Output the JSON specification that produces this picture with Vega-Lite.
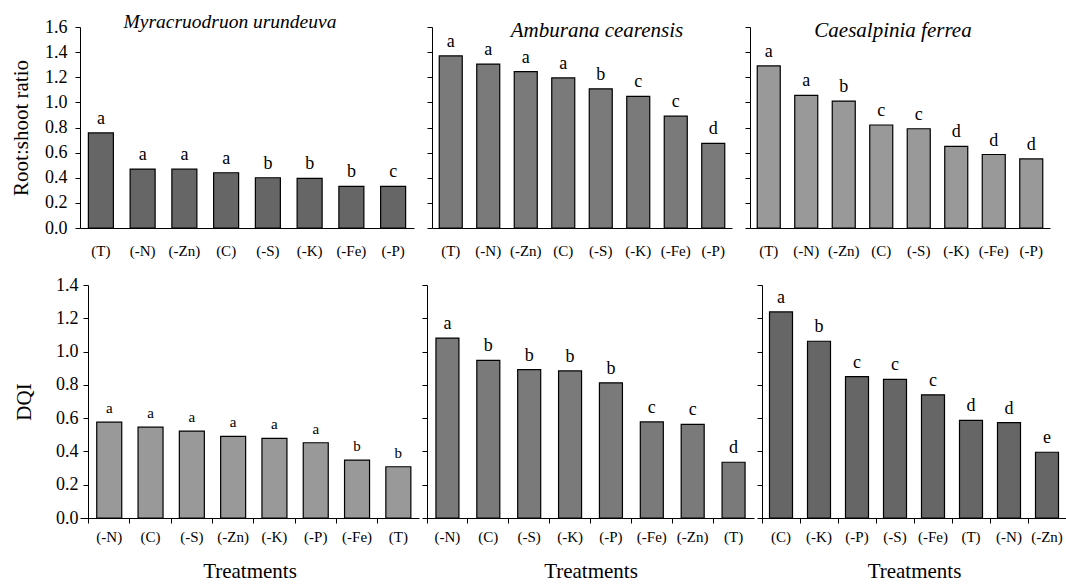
{
  "$schema": "https://vega.github.io/schema/vega-lite/v6.json",
  "padding": {"left": 10, "top": 11, "right": 0, "bottom": 0},
  "config": {
    "font": "Liberation Serif",
    "view": {"stroke": null},
    "axis": {
      "grid": false,
      "domainColor": "#000000",
      "tickColor": "#000000",
      "labelColor": "#000000",
      "titleColor": "#000000",
      "labelFont": "Liberation Serif",
      "titleFont": "Liberation Serif",
      "titleFontWeight": "normal"
    },
    "title": {"font": "Liberation Serif", "fontStyle": "italic", "fontWeight": "normal", "fontSize": 21, "color": "#000000", "baseline": "alphabetic", "offset": -14, "anchor": "middle"},
    "text": {"font": "Liberation Serif", "fontSize": 18, "baseline": "alphabetic", "dy": -9, "color": "#000000"}
  },
  "datasets": {
    "rs": [
      {"sp": "M", "t": "(T)", "v": 0.757, "l": "a"},
      {"sp": "M", "t": "(-N)", "v": 0.469, "l": "a"},
      {"sp": "M", "t": "(-Zn)", "v": 0.468, "l": "a"},
      {"sp": "M", "t": "(C)", "v": 0.44, "l": "a"},
      {"sp": "M", "t": "(-S)", "v": 0.40, "l": "b"},
      {"sp": "M", "t": "(-K)", "v": 0.395, "l": "b"},
      {"sp": "M", "t": "(-Fe)", "v": 0.332, "l": "b"},
      {"sp": "M", "t": "(-P)", "v": 0.332, "l": "c"},
      {"sp": "A", "t": "(T)", "v": 1.37, "l": "a"},
      {"sp": "A", "t": "(-N)", "v": 1.305, "l": "a"},
      {"sp": "A", "t": "(-Zn)", "v": 1.245, "l": "a"},
      {"sp": "A", "t": "(C)", "v": 1.195, "l": "a"},
      {"sp": "A", "t": "(-S)", "v": 1.108, "l": "b"},
      {"sp": "A", "t": "(-K)", "v": 1.047, "l": "c"},
      {"sp": "A", "t": "(-Fe)", "v": 0.89, "l": "c"},
      {"sp": "A", "t": "(-P)", "v": 0.674, "l": "d"},
      {"sp": "C", "t": "(T)", "v": 1.29, "l": "a"},
      {"sp": "C", "t": "(-N)", "v": 1.056, "l": "a"},
      {"sp": "C", "t": "(-Zn)", "v": 1.01, "l": "b"},
      {"sp": "C", "t": "(C)", "v": 0.82, "l": "c"},
      {"sp": "C", "t": "(-S)", "v": 0.79, "l": "c"},
      {"sp": "C", "t": "(-K)", "v": 0.65, "l": "d"},
      {"sp": "C", "t": "(-Fe)", "v": 0.585, "l": "d"},
      {"sp": "C", "t": "(-P)", "v": 0.55, "l": "d"}
    ],
    "dqi": [
      {"sp": "M", "t": "(-N)", "v": 0.576, "l": "a"},
      {"sp": "M", "t": "(C)", "v": 0.546, "l": "a"},
      {"sp": "M", "t": "(-S)", "v": 0.522, "l": "a"},
      {"sp": "M", "t": "(-Zn)", "v": 0.49, "l": "a"},
      {"sp": "M", "t": "(-K)", "v": 0.478, "l": "a"},
      {"sp": "M", "t": "(-P)", "v": 0.452, "l": "a"},
      {"sp": "M", "t": "(-Fe)", "v": 0.348, "l": "b"},
      {"sp": "M", "t": "(T)", "v": 0.308, "l": "b"},
      {"sp": "A", "t": "(-N)", "v": 1.081, "l": "a"},
      {"sp": "A", "t": "(C)", "v": 0.947, "l": "b"},
      {"sp": "A", "t": "(-S)", "v": 0.892, "l": "b"},
      {"sp": "A", "t": "(-K)", "v": 0.884, "l": "b"},
      {"sp": "A", "t": "(-P)", "v": 0.812, "l": "b"},
      {"sp": "A", "t": "(-Fe)", "v": 0.577, "l": "c"},
      {"sp": "A", "t": "(-Zn)", "v": 0.563, "l": "c"},
      {"sp": "A", "t": "(T)", "v": 0.335, "l": "d"},
      {"sp": "C", "t": "(C)", "v": 1.238, "l": "a"},
      {"sp": "C", "t": "(-K)", "v": 1.062, "l": "b"},
      {"sp": "C", "t": "(-P)", "v": 0.85, "l": "c"},
      {"sp": "C", "t": "(-S)", "v": 0.833, "l": "c"},
      {"sp": "C", "t": "(-Fe)", "v": 0.74, "l": "c"},
      {"sp": "C", "t": "(T)", "v": 0.587, "l": "d"},
      {"sp": "C", "t": "(-N)", "v": 0.573, "l": "d"},
      {"sp": "C", "t": "(-Zn)", "v": 0.395, "l": "e"}
    ]
  },
  "columns": 1,
  "align": "none",
  "spacing": 18,
  "concat": [
    {
      "spacing": 12,
      "hconcat": [
        {
          "width": 334, "height": 201,
          "data": {"name": "rs"},
          "transform": [{"filter": "datum.sp === 'M'"}],
          "title": {"text": "Myracruodruon urundeuva", "dx": -17, "fontSize": 19.5},
          "encoding": {
            "x": {"field": "t", "type": "nominal", "sort": ["(T)","(-N)","(-Zn)","(C)","(-S)","(-K)","(-Fe)","(-P)"],
                  "axis": {"title": null, "labelAngle": 0, "ticks": false, "tickSize": 0, "labelPadding": 15, "labelFontSize": 15, "labelBaseline": "top"}},
            "y": {"field": "v", "type": "quantitative", "scale": {"domain": [0, 1.6], "nice": false},
                  "axis": {"title": "Root:shoot ratio", "titleFontSize": 21, "titlePadding": 13, "values": [0,0.2,0.4,0.6,0.8,1.0,1.2,1.4,1.6], "format": ".1f", "labelFontSize": 18, "labelPadding": 8, "tickSize": 5}}
          },
          "layer": [
            {"mark": {"type": "bar", "size": 25, "fill": "#666666", "stroke": "#000000", "strokeWidth": 1.2}},
            {"mark": {"type": "text"}, "encoding": {"text": {"field": "l"}}}
          ]
        },
        {
          "width": 300, "height": 201,
          "data": {"name": "rs"},
          "transform": [{"filter": "datum.sp === 'A'"}],
          "title": {"text": "Amburana cearensis", "dx": 15},
          "encoding": {
            "x": {"field": "t", "type": "nominal", "sort": ["(T)","(-N)","(-Zn)","(C)","(-S)","(-K)","(-Fe)","(-P)"],
                  "axis": {"title": null, "labelAngle": 0, "ticks": false, "tickSize": 0, "labelPadding": 15, "labelFontSize": 15, "labelBaseline": "top"}},
            "y": {"field": "v", "type": "quantitative", "scale": {"domain": [0, 1.6], "nice": false},
                  "axis": {"title": null, "labels": false, "values": [0,0.2,0.4,0.6,0.8,1.0,1.2,1.4,1.6], "tickSize": 5}}
          },
          "layer": [
            {"mark": {"type": "bar", "size": 23, "fill": "#7a7a7a", "stroke": "#000000", "strokeWidth": 1.2}},
            {"mark": {"type": "text"}, "encoding": {"text": {"field": "l"}}}
          ]
        },
        {
          "width": 300, "height": 201,
          "data": {"name": "rs"},
          "transform": [{"filter": "datum.sp === 'C'"}],
          "title": {"text": "Caesalpinia ferrea", "dx": -7},
          "encoding": {
            "x": {"field": "t", "type": "nominal", "sort": ["(T)","(-N)","(-Zn)","(C)","(-S)","(-K)","(-Fe)","(-P)"],
                  "axis": {"title": null, "labelAngle": 0, "ticks": false, "tickSize": 0, "labelPadding": 15, "labelFontSize": 15, "labelBaseline": "top"}},
            "y": {"field": "v", "type": "quantitative", "scale": {"domain": [0, 1.6], "nice": false},
                  "axis": {"title": null, "labels": false, "values": [0,0.2,0.4,0.6,0.8,1.0,1.2,1.4,1.6], "tickSize": 5}}
          },
          "layer": [
            {"mark": {"type": "bar", "size": 23, "fill": "#999999", "stroke": "#000000", "strokeWidth": 1.2}},
            {"mark": {"type": "text"}, "encoding": {"text": {"field": "l"}}}
          ]
        }
      ]
    },
    {
      "spacing": 2,
      "hconcat": [
        {
          "width": 339, "height": 233,
          "data": {"name": "dqi"},
          "transform": [{"filter": "datum.sp === 'M'"}],
          "encoding": {
            "y": {"field": "v", "type": "quantitative", "scale": {"domain": [0, 1.4], "nice": false},
                  "axis": {"title": "DQI", "titleFontSize": 21, "titlePadding": 21, "offset": -8, "values": [0,0.2,0.4,0.6,0.8,1.0,1.2,1.4], "format": ".1f", "labelFontSize": 18, "labelPadding": 5, "tickSize": 5}}
          },
          "layer": [
            {"mark": {"type": "bar", "size": 25, "fill": "#999999", "stroke": "#000000", "strokeWidth": 1.2},
             "encoding": {"x": {"field": "t", "type": "nominal", "sort": ["(-N)","(C)","(-S)","(-Zn)","(-K)","(-P)","(-Fe)","(T)"],
                  "scale": {"paddingInner": 0, "paddingOuter": 0.104, "align": 1},
                  "axis": {"orient": "bottom", "title": "Treatments", "titleFontSize": 21, "titlePadding": 16, "labelAngle": 0, "ticks": false, "tickSize": 0, "labelPadding": 11, "labelFontSize": 15, "labelBaseline": "top"}}}},
            {"mark": {"type": "text", "fontSize": 15},
             "encoding": {"x": {"field": "t", "type": "nominal", "sort": ["(-N)","(C)","(-S)","(-Zn)","(-K)","(-P)","(-Fe)","(T)"],
                  "scale": {"paddingInner": 0, "paddingOuter": 0.104, "align": 1},
                  "axis": {"orient": "bottom", "title": null, "labels": false, "domain": false, "ticks": true, "tickSize": 5, "bandPosition": 0}},
                  "text": {"field": "l"}}}
          ],
          "resolve": {"axis": {"x": "independent"}}
        },
        {
          "width": 327, "height": 233,
          "data": {"name": "dqi"},
          "transform": [{"filter": "datum.sp === 'A'"}],
          "encoding": {
            "y": {"field": "v", "type": "quantitative", "scale": {"domain": [0, 1.4], "nice": false},
                  "axis": {"title": null, "labels": false, "values": [0,0.2,0.4,0.6,0.8,1.0,1.2,1.4], "tickSize": 5}}
          },
          "layer": [
            {"mark": {"type": "bar", "size": 23, "fill": "#7a7a7a", "stroke": "#000000", "strokeWidth": 1.2},
             "encoding": {"x": {"field": "t", "type": "nominal", "sort": ["(-N)","(C)","(-S)","(-K)","(-P)","(-Fe)","(-Zn)","(T)"],
                  "scale": {"paddingInner": 0, "paddingOuter": 0},
                  "axis": {"orient": "bottom", "title": "Treatments", "titleFontSize": 21, "titlePadding": 16, "labelAngle": 0, "ticks": false, "tickSize": 0, "labelPadding": 11, "labelFontSize": 15, "labelBaseline": "top"}}}},
            {"mark": {"type": "text"},
             "encoding": {"x": {"field": "t", "type": "nominal", "sort": ["(-N)","(C)","(-S)","(-K)","(-P)","(-Fe)","(-Zn)","(T)"],
                  "scale": {"paddingInner": 0, "paddingOuter": 0},
                  "axis": {"orient": "bottom", "title": null, "labels": false, "domain": false, "ticks": true, "tickSize": 5, "bandPosition": 0}},
                  "text": {"field": "l"}}}
          ],
          "resolve": {"axis": {"x": "independent"}}
        },
        {
          "width": 304, "height": 233,
          "data": {"name": "dqi"},
          "transform": [{"filter": "datum.sp === 'C'"}],
          "encoding": {
            "y": {"field": "v", "type": "quantitative", "scale": {"domain": [0, 1.4], "nice": false},
                  "axis": {"title": null, "labels": false, "values": [0,0.2,0.4,0.6,0.8,1.0,1.2,1.4], "tickSize": 5}}
          },
          "layer": [
            {"mark": {"type": "bar", "size": 23, "fill": "#666666", "stroke": "#000000", "strokeWidth": 1.2},
             "encoding": {"x": {"field": "t", "type": "nominal", "sort": ["(C)","(-K)","(-P)","(-S)","(-Fe)","(T)","(-N)","(-Zn)"],
                  "scale": {"paddingInner": 0, "paddingOuter": 0},
                  "axis": {"orient": "bottom", "title": "Treatments", "titleFontSize": 21, "titlePadding": 16, "labelAngle": 0, "ticks": false, "tickSize": 0, "labelPadding": 11, "labelFontSize": 15, "labelBaseline": "top"}}}},
            {"mark": {"type": "text"},
             "encoding": {"x": {"field": "t", "type": "nominal", "sort": ["(C)","(-K)","(-P)","(-S)","(-Fe)","(T)","(-N)","(-Zn)"],
                  "scale": {"paddingInner": 0, "paddingOuter": 0},
                  "axis": {"orient": "bottom", "title": null, "labels": false, "domain": false, "ticks": true, "tickSize": 5, "bandPosition": 0}},
                  "text": {"field": "l"}}}
          ],
          "resolve": {"axis": {"x": "independent"}}
        }
      ]
    }
  ]
}
